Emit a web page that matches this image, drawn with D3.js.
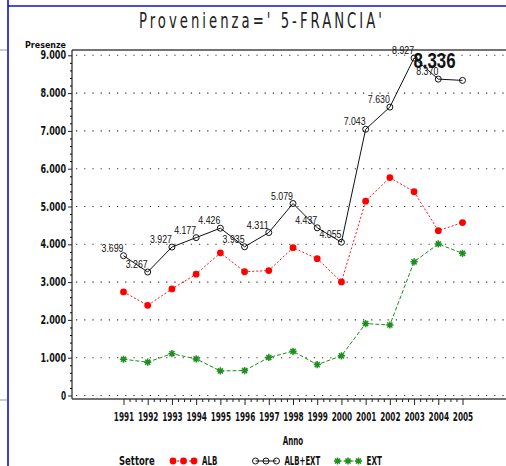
<!DOCTYPE html>
<html>
<head>
<meta charset="utf-8">
<script src="https://cdn.jsdelivr.net/npm/d3@7"></script>
<style>
    html, body { margin: 0; padding: 0; background: #fff; }
    svg { display: block; }
</style>
</head>
<body>
<svg id="chart" width="506" height="466"></svg>
<script>
// --- data
const YEARS = [1991, 1992, 1993, 1994, 1995, 1996, 1997, 1998, 1999, 2000, 2001, 2002, 2003, 2004, 2005];
const ALB = [2740, 2385, 2820, 3210, 3775, 3275, 3305, 3910, 3620, 3005, 5140, 5765, 5390, 4360, 4575];
const ALB_EXT = [3699, 3267, 3927, 4177, 4426, 3935, 4311, 5079, 4437, 4055, 7043, 7630, 8927, 8370, 8336];
const EXT = [959, 882, 1107, 967, 651, 660, 1006, 1169, 817, 1050, 1903, 1865, 3537, 4010, 3761];
const Y_TICKS = [0, 1000, 2000, 3000, 4000, 5000, 6000, 7000, 8000, 9000];
const SERIES_NAMES = ['ALB', 'ALB+EXT', 'EXT'];

const COND = '"DejaVu Sans Condensed", "DejaVu Sans", sans-serif';
const SANS = '"Liberation Sans", Arial, sans-serif';
const GREEN = '#1c8f1c';
const CHAR_W = 5.1; // width of one glyph cell of the axis font

const svg = d3.select('#chart');

const x = d3.scaleLinear().domain([1991, 2005]).range([123.5, 462.5]);
const y = d3.scaleLinear().domain([0, 9000]).range([395.5, 55.3]);

const fmt = d3.formatLocale({decimal: ',', thousands: '.', grouping: [3], currency: ['', '']}).format(',d');
const fmt3 = v => (v / 1000).toFixed(3);

// squeeze a text to a given width (the reference font is very narrow)
function squeeze(sel, w) {
    sel.attr('textLength', w).attr('lengthAdjust', 'spacingAndGlyphs');
}
function axisText(sel) {
    sel.attr('font-family', COND).attr('font-weight', 'bold').attr('font-size', 11.5).attr('fill', '#111')
        .each(function() {
            const t = d3.select(this);
            squeeze(t, t.text().length * CHAR_W);
        });
}

// --- page frame (blue rules + grey stubs)
svg.append('line').attr('x1', 8).attr('x2', 8).attr('y1', 0).attr('y2', 466)
    .attr('stroke', '#1010d0').attr('stroke-width', 1.6);
svg.append('line').attr('x1', 8).attr('x2', 506).attr('y1', 6).attr('y2', 6)
    .attr('stroke', '#1010d0').attr('stroke-width', 1.6);
[50, 400].forEach(yy => {
    svg.append('line').attr('x1', 0).attr('x2', 7).attr('y1', yy).attr('y2', yy)
        .attr('stroke', '#999').attr('stroke-width', 1);
});

// --- title (thin, narrow, letter-spaced)
const titleScale = 0.7;
svg.append('g')
    .attr('transform', `scale(${titleScale},1)`)
    .append('text')
    .attr('x', 139 / titleScale).attr('y', 28)
    .attr('textLength', 243 / titleScale).attr('lengthAdjust', 'spacing')
    .attr('font-family', COND).attr('font-size', 21)
    .attr('fill', '#222')
    .text("Provenienza=' 5-FRANCIA'");

// --- grid
svg.append('g').selectAll('line')
    .data(Y_TICKS)
    .enter()
    .append('line')
    .attr('x1', 76).attr('x2', 506)
    .attr('y1', d => y(d)).attr('y2', d => y(d))
    .attr('stroke', '#333').attr('stroke-width', 1.1)
    .attr('stroke-dasharray', '1.2,7');

// --- frame lines
svg.append('line').attr('x1', 72).attr('x2', 506).attr('y1', 50).attr('y2', 50)
    .attr('stroke', '#444').attr('stroke-width', 1.5);
svg.append('line').attr('x1', 72).attr('x2', 506).attr('y1', 399).attr('y2', 399)
    .attr('stroke', '#444').attr('stroke-width', 1.5);

// --- y axis
const yAxis = d3.axisLeft(y)
    .tickValues(Y_TICKS)
    .tickSize(4)
    .tickPadding(2)
    .tickFormat(d => fmt(d));
const yMinor = d3.axisLeft(y)
    .tickValues(d3.range(0, 9001, 200).filter(v => v % 1000 !== 0))
    .tickSize(2)
    .tickFormat('');

const gy = svg.append('g').attr('transform', 'translate(72,0)').call(yAxis);
svg.append('g').attr('transform', 'translate(72,0)').call(yMinor).select('.domain').remove();
gy.select('.domain').attr('d', 'M0,50V399').attr('stroke', '#222').attr('stroke-width', 1.2);
gy.selectAll('.tick line').attr('stroke', '#222');
gy.selectAll('.tick text').call(axisText);

svg.append('text')
    .attr('x', 25).attr('y', 48)
    .attr('font-family', COND).attr('font-weight', 'bold').attr('font-size', 9.5)
    .attr('fill', '#111')
    .text('Presenze')
    .call(squeeze, 41);

// --- x axis
const xAxis = d3.axisBottom(x)
    .tickValues(YEARS)
    .tickSize(6)
    .tickPadding(8)
    .tickFormat(d => String(d));
const xMinor = d3.axisBottom(x)
    .tickValues(d3.range(1991, 2005, 0.25).filter(v => v % 1 !== 0))
    .tickSize(3)
    .tickFormat('');

const gx = svg.append('g').attr('transform', 'translate(0,399)').call(xAxis);
gx.select('.domain').remove();
gx.selectAll('.tick line').attr('stroke', '#222');
gx.selectAll('.tick text').call(axisText);
const gxm = svg.append('g').attr('transform', 'translate(0,399)').call(xMinor);
gxm.select('.domain').remove();
gxm.selectAll('.tick line').attr('stroke', '#222');

svg.append('text')
    .attr('x', 293).attr('y', 445).attr('text-anchor', 'middle')
    .text('Anno')
    .call(axisText);

// --- series
const line = d3.line().x(d => x(d[0])).y(d => y(d[1]));
const pts = vals => YEARS.map((yr, i) => [yr, vals[i]]);

function starPath(r) {
    let p = '';
    [0, 45, 90, 135].forEach(a => {
        const rad = a * Math.PI / 180;
        const dx = r * Math.cos(rad), dy = r * Math.sin(rad);
        p += `M${-dx},${-dy}L${dx},${dy}`;
    });
    return p;
}

// ALB (red, dashed, filled dots)
svg.append('path').datum(pts(ALB))
    .attr('fill', 'none').attr('stroke', '#ff1010').attr('stroke-width', 1)
    .attr('stroke-dasharray', '2,2').attr('d', line);
svg.append('g').selectAll('circle')
    .data(pts(ALB)).enter().append('circle')
    .attr('cx', d => x(d[0])).attr('cy', d => y(d[1])).attr('r', 3.4)
    .attr('fill', '#ff0000');

// EXT (green, dashed, stars)
svg.append('path').datum(pts(EXT))
    .attr('fill', 'none').attr('stroke', GREEN).attr('stroke-width', 1)
    .attr('stroke-dasharray', '4,2').attr('d', line);
svg.append('g').selectAll('path')
    .data(pts(EXT)).enter().append('path')
    .attr('transform', d => `translate(${x(d[0])},${y(d[1])})`)
    .attr('d', starPath(3.6))
    .attr('stroke', GREEN).attr('stroke-width', 1.5).attr('fill', 'none');

// ALB+EXT (black, solid, open circles)
svg.append('path').datum(pts(ALB_EXT))
    .attr('fill', 'none').attr('stroke', '#111').attr('stroke-width', 1).attr('d', line);
svg.append('g').selectAll('circle')
    .data(pts(ALB_EXT)).enter().append('circle')
    .attr('cx', d => x(d[0])).attr('cy', d => y(d[1])).attr('r', 3)
    .attr('fill', 'none').attr('stroke', '#111').attr('stroke-width', 1);

// value labels on ALB+EXT (the last one comes out big and bold in the reference)
const last = ALB_EXT.length - 1;
svg.append('g').selectAll('text')
    .data(pts(ALB_EXT)).enter().append('text')
    .attr('x', (d, i) => x(d[0]) + (i === last ? -7 : 0))
    .attr('y', (d, i) => y(d[1]) + (i === last ? -12 : -4))
    .attr('text-anchor', 'end')
    .attr('font-family', SANS)
    .attr('font-size', (d, i) => i === last ? 22 : 10.5)
    .attr('font-weight', (d, i) => i === last ? 'bold' : 'normal')
    .attr('fill', '#111')
    .text(d => fmt3(d[1]))
    .each(function(d, i) { squeeze(d3.select(this), i === last ? 42 : 22); });

// --- legend
const legendY = 461;
svg.append('text')
    .attr('x', 119).attr('y', legendY + 4)
    .text('Settore')
    .call(axisText);

const legendX = [173, 255.5, 337.5];
SERIES_NAMES.forEach((name, k) => {
    const g = svg.append('g').attr('transform', `translate(${legendX[k]},${legendY})`);
    const xs = [0, 10.5, 21];
    const color = k === 0 ? '#ff0000' : k === 1 ? '#111' : GREEN;
    g.append('line').attr('x1', 0).attr('x2', 21).attr('y1', 0).attr('y2', 0)
        .attr('stroke', color).attr('stroke-width', 1)
        .attr('stroke-dasharray', k === 0 ? '2,2' : k === 2 ? '4,2' : null);
    xs.forEach(xx => {
        if (k === 0) {
            g.append('circle').attr('cx', xx).attr('cy', 0).attr('r', 3.4).attr('fill', '#ff0000');
        } else if (k === 1) {
            g.append('circle').attr('cx', xx).attr('cy', 0).attr('r', 3)
                .attr('fill', 'none').attr('stroke', '#111');
        } else {
            g.append('path').attr('transform', `translate(${xx},0)`).attr('d', starPath(3.6))
                .attr('stroke', GREEN).attr('stroke-width', 1.5);
        }
    });
    g.append('text')
        .attr('x', 29).attr('y', 4)
        .text(name)
        .call(axisText);
});
</script>
</body>
</html>
